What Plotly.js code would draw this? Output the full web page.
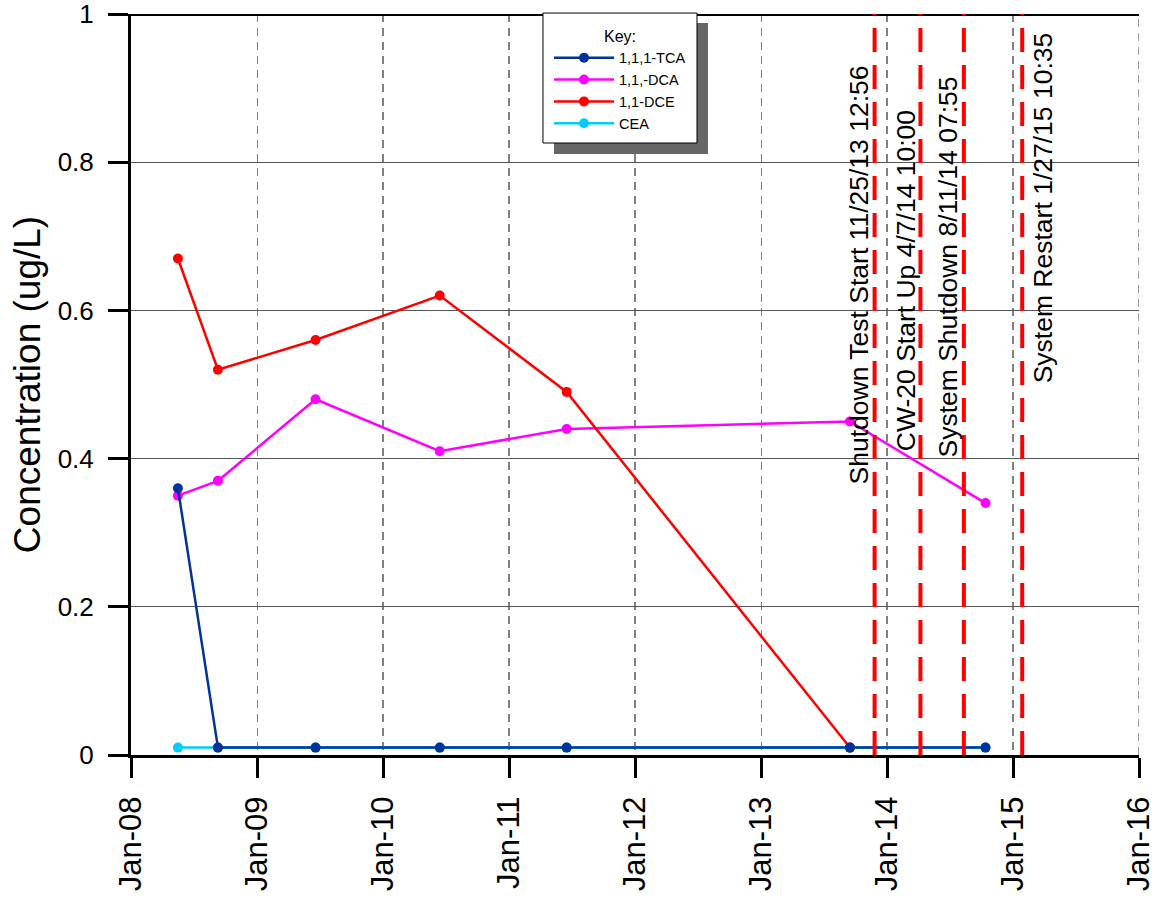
<!DOCTYPE html>
<html>
<head>
<meta charset="utf-8">
<script src="https://cdn.plot.ly/plotly-3.0.1.min.js"></script>
<style>
  html, body { margin: 0; padding: 0; background: #fff; }
  #chart { width: 1156px; height: 900px; }
</style>
</head>
<body>
<div id="chart"></div>
<script>
// ---- data ----
const sampleDates = ['2008-05-16', '2008-09-09', '2009-06-19', '2010-06-14', '2011-06-17', '2013-09-15', '2014-10-13'];
const tca = [0.36, 0.01, 0.01, 0.01, 0.01, 0.01, 0.01];
const dca = [0.35, 0.37, 0.48, 0.41, 0.44, 0.45, 0.34];
const dce = [0.67, 0.52, 0.56, 0.62, 0.49, 0.01, null];
const cea = [0.01, 0.01, 0.01, 0.01, 0.01, 0.01, 0.01];
const seriesNames = ['1,1,1-TCA', '1,1,-DCA', '1,1-DCE', 'CEA'];

const eventDates = ['2013-11-25 12:56', '2014-04-07 10:00', '2014-08-11 07:55', '2015-01-27 10:35'];
const eventLabels = ['Shutdown Test Start 11/25/13 12:56', 'CW-20 Start Up 4/7/14 10:00',
                     'System Shutdown 8/11/14 07:55', 'System Restart 1/27/15 10:35'];
const eventLabelY = [0.648, 0.640, 0.659, 0.738];
const eventLabelShift = [-16, -15, -16, 21];

const xRange = ['2008-01-01', '2016-01-01'];
const yTicks = [0, 0.2, 0.4, 0.6, 0.8, 1];
const yTickText = ['0', '0.2', '0.4', '0.6', '0.8', '1'];

const FONT = 'Arial, "Liberation Sans", sans-serif';

function series(name, y, color, rank) {
  return {
    type: 'scatter', mode: 'lines+markers', name: name,
    x: sampleDates, y: y, connectgaps: false,
    line: { color: color, width: 2.5 },
    marker: { color: color, size: 10 },
    legendrank: rank
  };
}

const traces = [
  series(seriesNames[3], cea, '#00CCFF', 4),
  series(seriesNames[1], dca, '#FF00FF', 2),
  series(seriesNames[2], dce, '#FF0000', 3),
  series(seriesNames[0], tca, '#003399', 1)
];

const shapes = [];
// right-edge vertical grid line (last year gridline)
shapes.push({ type: 'line', xref: 'x', yref: 'paper', x0: xRange[1], x1: xRange[1], y0: 0, y1: 1,
  line: { color: '#808080', width: 1.5, dash: '8px,6px' }, layer: 'below' });
// top border line
shapes.push({ type: 'line', xref: 'paper', yref: 'y', x0: 0, x1: 1, y0: 1, y1: 1,
  line: { color: '#000', width: 4 }, layer: 'above' });
// event lines
eventDates.forEach(d => shapes.push({
  type: 'line', xref: 'x', yref: 'paper', x0: d, x1: d, y0: 0, y1: 1,
  line: { color: '#FF0000', width: 4, dash: '24px,13px' }, layer: 'above'
}));
// legend shadow and box
shapes.push({ type: 'rect', xref: 'paper', yref: 'paper', x0: 0.4196, x1: 0.5724, y0: 0.811, y1: 0.9879,
  fillcolor: '#666666', line: { width: 0 }, layer: 'above' });
shapes.push({ type: 'rect', xref: 'paper', yref: 'paper', x0: 0.4087, x1: 0.5615, y0: 0.8259, y1: 1.0013,
  fillcolor: '#FFFFFF', line: { color: '#000', width: 1 }, layer: 'above' });

const annotations = eventLabels.map((t, i) => ({
  x: eventDates[i], y: eventLabelY[i], xref: 'x', yref: 'y',
  text: t, showarrow: false, textangle: -90,
  xanchor: 'center', yanchor: 'middle', xshift: eventLabelShift[i],
  font: { family: FONT, size: 26.5, color: '#000' }
}));

const layout = {
  width: 1156, height: 900,
  margin: { l: 131, r: 17, t: 14, b: 145, pad: 0 },
  paper_bgcolor: '#fff', plot_bgcolor: '#fff',
  font: { family: FONT, color: '#000' },
  showlegend: true,
  legend: {
    x: 0.4147, y: 0.9906, xanchor: 'left', yanchor: 'top',
    bgcolor: 'rgba(0,0,0,0)', borderwidth: 0,
    font: { family: FONT, size: 14.5, color: '#000' },
    itemwidth: 60,
    title: { text: 'Key:', side: 'top center', font: { family: FONT, size: 16, color: '#000' } },
    traceorder: 'normal', tracegroupgap: 0
  },
  xaxis: {
    type: 'date', range: xRange, autorange: false,
    tick0: '2008-01-01', dtick: 'M12', tickformat: '%b-%y',
    tickangle: -90, tickfont: { family: FONT, size: 31, color: '#000' },
    ticks: 'outside', ticklen: 20, tickwidth: 3, tickcolor: '#000',
    ticklabelstandoff: 6, ticklabeloverflow: 'allow',
    showline: true, linecolor: '#000', linewidth: 3,
    showgrid: true, gridcolor: '#808080', gridwidth: 1.5, griddash: '8px,6px',
    zeroline: false, fixedrange: true
  },
  yaxis: {
    range: [0, 1], autorange: false,
    tickvals: yTicks, ticktext: yTickText,
    tickfont: { family: FONT, size: 26, color: '#000' },
    ticks: 'outside', ticklen: 20, tickwidth: 3, tickcolor: '#000',
    ticklabelstandoff: 9, ticklabeloverflow: 'allow',
    showline: true, linecolor: '#000', linewidth: 3,
    showgrid: true, gridcolor: '#555555', gridwidth: 1,
    zeroline: false, fixedrange: true,
    title: { text: 'Concentration (ug/L)', font: { family: FONT, size: 37, color: '#000' }, standoff: 6 },
    automargin: false
  },
  shapes: shapes,
  annotations: annotations
};

Plotly.newPlot('chart', traces, layout, { displayModeBar: false, staticPlot: true });
</script>
</body>
</html>
